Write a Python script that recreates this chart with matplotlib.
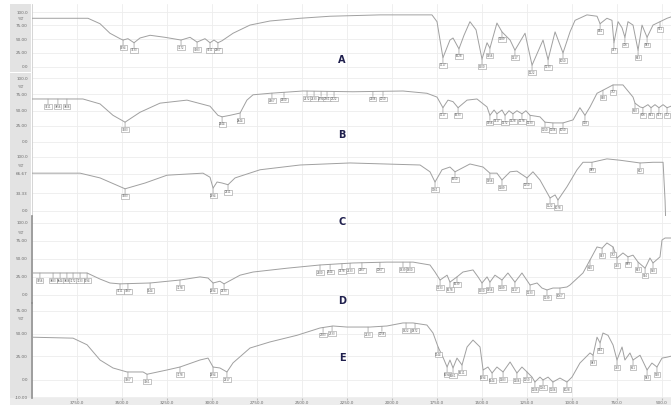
import numpy as np
import matplotlib
matplotlib.use("Agg")
import matplotlib.pyplot as plt
from matplotlib.patches import Rectangle

# spectre A
wn_a = [4000, 3689, 3622, 3567, 3511, 3494, 3467, 3433, 3400, 3344, 3261, 3172, 3122, 3083,
        3039, 3011, 2989, 2967, 2944, 2883, 2789, 2678, 2511, 2344, 2067, 1778, 1750, 1717,
        1678, 1661, 1628, 1600, 1567, 1533, 1500, 1472, 1456, 1417, 1389, 1344, 1317, 1261,
        1222, 1161, 1133, 1094, 1050, 1011, 983, 917, 861, 844, 806, 778, 767, 744, 722, 706,
        689, 661, 633, 611, 583, 550, 511, 472, 450]
t_a = [79, 79, 71, 57, 49, 47, 49, 43, 50, 54, 51, 47, 51, 44,
       49, 43, 47, 43, 46, 57, 69, 75, 79, 82, 84, 84, 74, 21,
       47, 50, 34, 54, 74, 62, 19, 43, 35, 72, 59, 47, 32, 57,
       10, 47, 18, 59, 28, 59, 76, 84, 82, 71, 79, 76, 43, 74, 65, 51,
       74, 69, 32, 69, 51, 69, 74, 79, 81]
peaks_a = [3494, 3433, 3172, 3083, 3011, 2967, 1717, 1628, 1500, 1456, 1389, 1317, 1222,
           1133, 1050, 844, 767, 706, 633, 583, 511]

# spectre B
wn_b = [4000, 3717, 3622, 3550, 3483, 3400, 3289, 3139, 3011, 2967, 2944, 2900, 2844, 2806,
        2772, 2678, 2494, 2217, 1939, 1806, 1750, 1717, 1689, 1661, 1633, 1583, 1528, 1472,
        1456, 1433, 1417, 1389, 1372, 1350, 1328, 1306, 1278, 1256, 1233, 1178, 1150, 1106,
        1050, 994, 956, 928, 900, 861, 828, 772, 717, 661, 650, 622, 606, 578, 561, 539, 517,
        494, 472, 450]
t_b = [64.5, 64.5, 58, 43, 34, 47, 59, 63, 55, 43, 41, 43, 46, 63,
       70, 72, 75, 74, 75, 72, 67, 53, 63, 61, 53, 63, 64.5, 54,
       43, 50, 45, 50, 43, 49, 45, 49, 45, 49, 43, 41, 34, 33,
       33, 37, 53, 43, 54, 72, 76, 83, 83, 67, 59, 54, 53, 57, 53, 57, 53,
       57, 53, 55]
peaks_b = [3911, 3856, 3806, 3483, 2944, 2844, 2667, 2600, 2472, 2433, 2394, 2361, 2322,
           2106, 2050, 1717, 1633, 1456, 1417, 1372, 1328, 1278, 1233, 1150, 1106, 1050,
           928, 828, 772, 650, 606, 561, 517, 472]

# spectre C
wn_c = [4000, 3733, 3622, 3483, 3372, 3250, 3050, 3011, 2994, 2972, 2944, 2911, 2872, 2733,
        2511, 2233, 1844, 1789, 1761, 1722, 1678, 1650, 1567, 1494, 1456, 1417, 1389, 1344,
        1306, 1250, 1217, 1178, 1122, 1094, 1078, 1028, 972, 939, 889, 806, 733, 622, 550,
        494, 483, 478, 450]
t_c = [63, 63, 56, 40, 48.5, 60, 63, 57, 41, 50, 48.5, 46, 56, 68,
       75, 78, 75, 65, 50, 68, 72, 65, 76.5, 72, 63, 63, 53, 65,
       66, 56, 65, 53, 26.5, 31, 23.5, 43, 68, 79, 79, 84, 82, 78, 79,
       79, 23, -20, -20]
peaks_c = [3483, 2994, 2911, 1761, 1650, 1456, 1389, 1250, 1122, 1078, 889, 622]

# spectre D
wn_d = [4000, 3694, 3622, 3567, 3511, 3344, 3178, 3067, 3022, 2994, 2956, 2933, 2844, 2772,
        2583, 2400, 2217, 2028, 1883, 1789, 1761, 1733, 1694, 1678, 1639, 1606, 1550, 1522,
        1500, 1472, 1456, 1428, 1389, 1356, 1317, 1278, 1233, 1194, 1167, 1139, 1106, 1067,
        1028, 1011, 939, 900, 861, 833, 806, 772, 750, 717, 689, 661, 633, 594, 567, 550, 511,
        500, 483, 450]
t_d = [34.5, 34.5, 27.5, 23, 22, 23, 26.4, 30, 28.7, 23, 25, 22, 32, 35.6,
       40, 43.7, 46, 47, 47, 43.7, 35.6, 26.4, 32, 24, 30, 35.6, 38, 30,
       23, 30, 24, 32, 26.4, 34.5, 24, 34.5, 20.7, 23, 17.2, 15, 17.2, 17.2,
       18.4, 20.7, 34.5, 49.4, 64.4, 63, 69, 64.4, 51.7, 57.5, 53, 55, 47, 40, 51.7, 46, 53,
       72.4, 74.7, 74.7]
peaks_d = [3956, 3883, 3844, 3806, 3772, 3733, 3694, 3511, 3467, 3344, 3178, 2994, 2933,
           2400, 2344, 2278, 2233, 2167, 2067, 1939, 1900, 1733, 1678, 1639, 1500, 1456,
           1389, 1317, 1233, 1139, 1067, 900, 833, 772, 750, 689, 633, 594, 550]

# spectre E
wn_e = [4000, 3772, 3694, 3622, 3550, 3472, 3383, 3361, 3250, 3178, 3067, 3022, 2994, 2956,
        2917, 2883, 2789, 2678, 2528, 2400, 2328, 2250, 2122, 2028, 1939, 1883, 1806, 1772,
        1744, 1717, 1694, 1678, 1661, 1639, 1611, 1583, 1550, 1511, 1494, 1467, 1444, 1417,
        1383, 1344, 1306, 1278, 1250, 1222, 1206, 1178, 1161, 1133, 1106, 1067, 1028, 1000,
        956, 900, 883, 861, 844, 828, 800, 772, 750, 722, 706, 678, 661, 622, 583, 556, 528,
        500, 472, 450]
t_e = [64, 63, 56, 40, 31.6, 27.4, 27.4, 25, 29.5, 32.6, 40, 42, 32.6, 31.6,
       27.4, 37, 52.6, 59, 66, 73.7, 75.8, 74.7, 74.7, 75.8, 79, 79, 76.8, 68.4,
       53.7, 43, 32.6, 40, 31.6, 42, 34.7, 53.7, 61, 53.7, 29.5, 32.6, 26.3, 32.6,
       27.4, 37.9, 26.3, 32.6, 27.4, 22, 16.8, 22, 19, 22, 16.8, 21, 16.8, 22,
       36.8, 47.4, 45, 64, 58, 68.4, 66, 55.8, 40, 53.7, 40, 47.4, 40, 45, 29.5, 36.8, 32.6,
       42, 43, 44]
peaks_e = [3467, 3361, 3178, 2994, 2917, 2383, 2333, 2133, 2056, 1922, 1872, 1744, 1694,
           1661, 1611, 1494, 1444, 1383, 1306, 1250, 1206, 1161, 1106, 1028, 883, 844, 750,
           661, 583, 528]

noms = ["A", "B", "C", "D", "E"]
spectres = [(wn_a, t_a, peaks_a), (wn_b, t_b, peaks_b), (wn_c, t_c, peaks_c),
            (wn_d, t_d, peaks_d), (wn_e, t_e, peaks_e)]
graduations = [
    ([7.5, 28, 48.5, 69, 88], ["0.0", "25.00", "50.00", "75.00", "100.0"]),
    ([8, 29, 48.7, 71, 92], ["0.0", "25.00", "50.00", "75.00", "100.0"]),
    ([7.4, 33.8, 61.8, 86.8], ["0.0", "33.33", "66.67", "100.0"]),
    ([9.2, 29.9, 50.6, 71.3, 92], ["0.0", "25.00", "50.00", "75.00", "100.0"]),
    ([1, 19, 44.2, 67.4, 91.6], ["-10.00", "0.0", "25.00", "50.00", "75.00"]),
]
# hauteur de l'unité %T dans chaque panneau
pos_unite = [0.785, 0.80, 0.735, 0.81, 0.83]
pos_lettres = [(342, 60), (342, 135), (342, 222), (342, 301), (342, 358)]

W, H = 671, 405
fig = plt.figure(figsize=(W / 100, H / 100), dpi=100)

# bandes grises des axes (sous les axes)
fig.patches.append(Rectangle((10 / W, 1 - 398 / H), 21 / W, 394 / H,
                             transform=fig.transFigure, fc="#e3e3e3", ec="none", zorder=-2))
fig.patches.append(Rectangle((10 / W, 0), 661 / W, 7 / H,
                             transform=fig.transFigure, fc="#ececec", ec="none", zorder=-2))
# séparateur blanc entre A et B dans la bande grise
fig.patches.append(Rectangle((10 / W, 1 - 73 / H), 21 / W, 1.2 / H,
                             transform=fig.transFigure, fc="white", ec="none", zorder=-1))

gs = fig.add_gridspec(5, 1, height_ratios=[68, 76, 68, 87, 95], hspace=0,
                      left=32 / W, right=1.0, top=1 - 4 / H, bottom=1 - 398 / H)

for i, (wn, t, pics) in enumerate(spectres):
    ax = fig.add_subplot(gs[i])
    ax.set_facecolor("none")
    ax.plot(wn, t, color="#a0a0a0", lw=0.7, zorder=3)
    ax.set_xlim(4000, 450)
    ax.set_ylim(0, 100)
    ax.set_xticks(np.arange(3750, 450, -250))
    ax.grid(True, color="#ededed", lw=0.6)
    ticks, labels = graduations[i]
    ax.set_yticks(ticks)
    ax.set_yticklabels(labels, fontsize=3.0, color="#6a6a6a")
    ax.tick_params(axis="y", length=0, pad=3)
    ax.text(-0.012, pos_unite[i], "%T", transform=ax.transAxes, fontsize=3.0,
            color="#6a6a6a", ha="right", va="center")
    for s in ["top", "right", "bottom"]:
        ax.spines[s].set_visible(False)
    ax.spines["left"].set_color("#8c8c8c" if i >= 3 else "#cfcfcf")
    ax.spines["left"].set_linewidth(1.2 if i >= 3 else 0.6)
    if i < 4:
        ax.tick_params(axis="x", length=0, labelbottom=False)
    else:
        ax.tick_params(axis="x", length=1.5, color="#bbbbbb", pad=0.5,
                       labelsize=3.0, labelcolor="#6a6a6a")
        ax.set_xticklabels([f"{v:.1f}" for v in np.arange(3750, 450, -250)])

    # étiquettes des pics
    for p in pics:
        y = np.interp(p, wn[::-1], t[::-1])
        ax.annotate(f"{p}", xy=(p, y), xytext=(0, -4), textcoords="offset points",
                    ha="center", va="top", fontsize=1.9, color="#555555",
                    bbox=dict(boxstyle="square,pad=0.12", fc="white", ec="#999999", lw=0.4),
                    arrowprops=dict(arrowstyle="-", color="#999999", lw=0.5,
                                    shrinkA=0, shrinkB=0), zorder=4)

for nom, (x, y) in zip(noms, pos_lettres):
    fig.text(x / W, 1 - y / H, nom, fontsize=7, color="#1f1f4d",
             ha="center", va="center", fontweight="bold")

fig.savefig("out.png", dpi=100)
